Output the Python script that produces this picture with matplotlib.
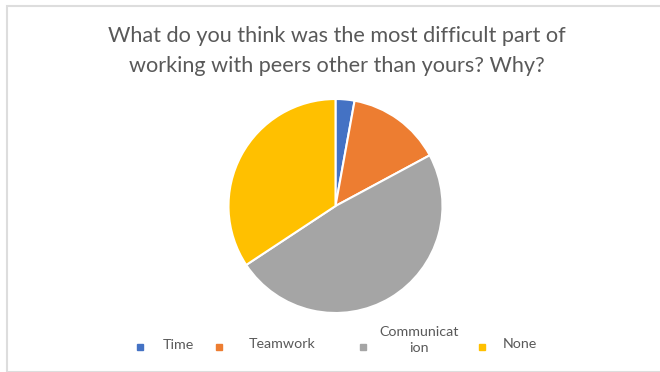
import matplotlib.pyplot as plt
from matplotlib.patches import Rectangle
from matplotlib.lines import Line2D

# data
labels = ["Time", "Teamwork", "Communicat\nion", "None"]
counts = [1, 5, 17, 12]
colors = ["#4472C4", "#ED7D31", "#A5A5A5", "#FFC000"]
title = "What do you think was the most difficult part of\nworking with peers other than yours? Why?"

plt.rcParams['font.family'] = ['Lato', 'DejaVu Sans']

W, H = 660, 372
fig = plt.figure(figsize=(W / 100, H / 100), dpi=100)
fig.patch.set_facecolor("white")

# chart frame
fig.patches.append(Rectangle((7 / W, 0.5 / H), 1.0, 1 - 6.5 / H, transform=fig.transFigure,
                             fill=False, edgecolor="#DDDDDD", linewidth=1.5))

# pie area: center (335.5, 206) px, radius 107 px
cx, cy, r = 335.5, 206, 107
ax = fig.add_axes([(cx - r) / W, (H - cy - r) / H, 2 * r / W, 2 * r / H])
ax.pie(counts, colors=colors, startangle=90, counterclock=False, radius=1,
       wedgeprops=dict(edgecolor="white", linewidth=1.5))
ax.set_xlim(-1, 1)
ax.set_ylim(-1, 1)
ax.set_aspect("auto")
ax.axis("off")

fig.text(337 / W, 1 - 51 / H, title, ha="center", va="center", fontsize=15.6,
         color="#595959", linespacing=1.58)

# legend
mark_x = [140, 219, 363, 482]
text_x = [178.5, 282, 419, 520]
text_y = [345, 344, 340, 344]
for mx, tx, ty, lab, c in zip(mark_x, text_x, text_y, labels, colors):
    fig.add_artist(Line2D([mx / W], [1 - 347 / H], marker="s", markersize=4.5,
                          color=c, linestyle="none", transform=fig.transFigure))
    fig.text(tx / W, 1 - ty / H, lab, ha="center", va="center", fontsize=10.3,
             color="#595959", linespacing=1.35)

fig.savefig("out.png", dpi=100, facecolor="white")
